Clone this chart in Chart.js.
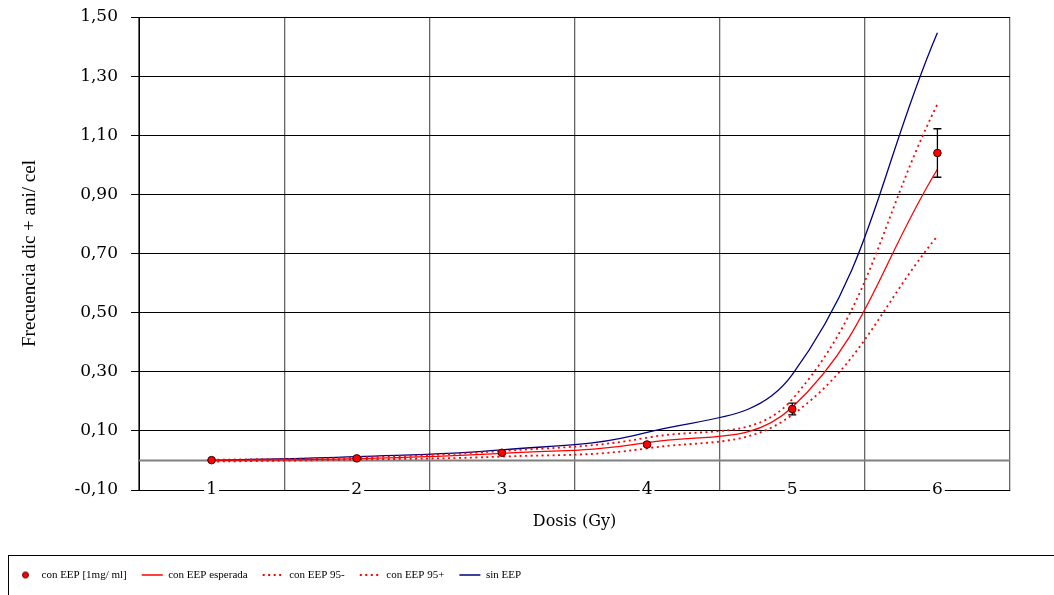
<!DOCTYPE html>
<html>
<head>
<meta charset="utf-8">
<script src="https://cdn.jsdelivr.net/npm/chart.js@4.4.0/dist/chart.umd.min.js"></script>
<style>
  html, body { margin: 0; padding: 0; background: #fff; }
</style>
</head>
<body>
<canvas id="chart" width="1054" height="595"></canvas>
<script>
// values
const doses = ['1', '2', '3', '4', '5', '6'];
const conEEP = [0.001, 0.007, 0.026, 0.054, 0.174, 1.04];
const conEEPErr = [0.002, 0.003, 0.004, 0.005, 0.02, 0.082];
const conEEPEsperada = [0.0, 0.006, 0.024, 0.06, 0.18, 0.985];
const conEEP95menos = [-0.004, 0.003, 0.013, 0.041, 0.154, 0.759];
const conEEP95mas = [0.002, 0.01, 0.032, 0.077, 0.207, 1.205];
const sinEEP = [0.0, 0.013, 0.036, 0.095, 0.29, 1.447];
const yTickValues = [-0.1, 0.1, 0.3, 0.5, 0.7, 0.9, 1.1, 1.3, 1.5];

const fmt = v => v.toFixed(2).replace('.', ',');

// little red dot used as the legend marker of the measured series
const dotImg = document.createElement('canvas');
dotImg.width = 9; dotImg.height = 9;
(() => {
  const c = dotImg.getContext('2d');
  c.beginPath();
  c.arc(4.5, 4.5, 3, 0, Math.PI * 2);
  c.fillStyle = '#ff0000';
  c.fill();
  c.lineWidth = 1;
  c.strokeStyle = '#400000';
  c.stroke();
})();

const zeroLine = {
  id: 'zeroLine',
  beforeDatasetsDraw(chart) {
    const {ctx, chartArea, scales} = chart;
    const y = scales.y.getPixelForValue(0);
    ctx.save();
    ctx.strokeStyle = '#808080';
    ctx.lineWidth = 2;
    ctx.beginPath();
    ctx.moveTo(chartArea.left, y);
    ctx.lineTo(chartArea.right, y);
    ctx.stroke();
    ctx.restore();
  }
};

const errorBars = {
  id: 'errorBars',
  beforeDatasetDraw(chart, args) {
    if (args.index !== 0) return;
    const {ctx, scales} = chart;
    const meta = chart.getDatasetMeta(0);
    ctx.save();
    ctx.strokeStyle = '#000';
    ctx.lineWidth = 1.3;
    meta.data.forEach((pt, i) => {
      const top = scales.y.getPixelForValue(conEEP[i] + conEEPErr[i]);
      const bot = scales.y.getPixelForValue(conEEP[i] - conEEPErr[i]);
      ctx.beginPath();
      ctx.moveTo(pt.x, top); ctx.lineTo(pt.x, bot);
      ctx.moveTo(pt.x - 4, top); ctx.lineTo(pt.x + 4, top);
      ctx.moveTo(pt.x - 4, bot); ctx.lineTo(pt.x + 4, bot);
      ctx.stroke();
    });
    ctx.restore();
  }
};

const legendFrame = {
  id: 'legendFrame',
  afterDraw(chart) {
    const ctx = chart.ctx;
    ctx.save();
    ctx.strokeStyle = '#000';
    ctx.lineWidth = 1;
    ctx.strokeRect(8.5, 555.5, 1100, 100);
    ctx.restore();
  }
};

const dotted = [2, 3.5];

new Chart(document.getElementById('chart'), {
  type: 'line',
  data: {
    labels: doses,
    datasets: [
      {
        label: 'con EEP [1mg/ ml]',
        data: conEEP,
        showLine: false,
        pointRadius: 3.8,
        pointBackgroundColor: '#ff0000',
        pointBorderColor: '#400000',
        pointBorderWidth: 1,
        borderColor: '#ff0000',
        backgroundColor: '#ff0000'
      },
      {
        label: 'con EEP esperada',
        data: conEEPEsperada,
        borderColor: '#ff0000',
        borderWidth: 1.3,
        pointRadius: 0,
        pointStyle: 'line',
        tension: 0.4
      },
      {
        label: 'con EEP 95-',
        data: conEEP95menos,
        borderColor: '#ff0000',
        borderWidth: 1.8,
        borderDash: dotted,
        pointRadius: 0,
        pointStyle: 'line',
        tension: 0.4
      },
      {
        label: 'con EEP 95+',
        data: conEEP95mas,
        borderColor: '#ff0000',
        borderWidth: 1.8,
        borderDash: dotted,
        pointRadius: 0,
        pointStyle: 'line',
        tension: 0.4
      },
      {
        label: 'sin EEP',
        data: sinEEP,
        borderColor: '#000080',
        borderWidth: 1.3,
        pointRadius: 0,
        pointStyle: 'line',
        tension: 0.4
      }
    ]
  },
  options: {
    responsive: false,
    animation: false,
    layout: { padding: { left: 0, top: 17, right: 44, bottom: 4.5 } },
    scales: {
      x: {
        offset: true,
        grid: { offset: true, color: '#666', lineWidth: 1.3, drawTicks: false },
        border: { color: '#000' },
        ticks: {
          color: '#000',
          font: { family: 'DejaVu Serif', size: 17 },
          mirror: true,
          padding: -10,
          showLabelBackdrop: true,
          backdropColor: '#fff',
          backdropPadding: 2
        },
        title: {
          display: true,
          text: 'Dosis (Gy)',
          color: '#000',
          font: { family: 'DejaVu Serif', size: 16 },
          padding: { top: 0, bottom: 23 }
        },
        afterFit(scale) { scale.height = 64.5; }
      },
      y: {
        min: -0.1,
        max: 1.5,
        afterBuildTicks(scale) { scale.ticks = yTickValues.map(v => ({ value: v })); },
        grid: { color: '#000', lineWidth: 1, tickLength: 8 },
        border: { color: '#000' },
        ticks: {
          color: '#000',
          font: { family: 'DejaVu Serif', size: 17 },
          padding: 13,
          callback: v => fmt(v)
        },
        title: {
          display: true,
          text: 'Frecuencia dic + ani/ cel',
          color: '#000',
          font: { family: 'Liberation Serif', size: 19 },
          padding: { top: 19, bottom: 0 }
        },
        afterFit(scale) {
          scale.width = 139;
          // tick padding should not push the plot area down
          scale.paddingTop = 10;
          scale.paddingBottom = 10;
        }
      }
    },
    plugins: {
      tooltip: { enabled: false },
      legend: {
        position: 'bottom',
        align: 'start',
        labels: {
          color: '#000',
          font: { family: 'Liberation Serif', size: 11 },
          usePointStyle: true,
          pointStyleWidth: 21,
          padding: 15,
          generateLabels(chart) {
            const items = Chart.defaults.plugins.legend.labels.generateLabels(chart);
            items.forEach((item, i) => {
              const ds = chart.data.datasets[i];
              item.strokeStyle = ds.borderColor;
              item.fillStyle = ds.borderColor;
              item.lineWidth = ds.borderWidth || 1;
              item.lineDash = ds.borderDash || [];
            });
            items[0].pointStyle = dotImg;
            return items;
          }
        }
      }
    }
  },
  plugins: [zeroLine, errorBars, legendFrame]
});
</script>
</body>
</html>
